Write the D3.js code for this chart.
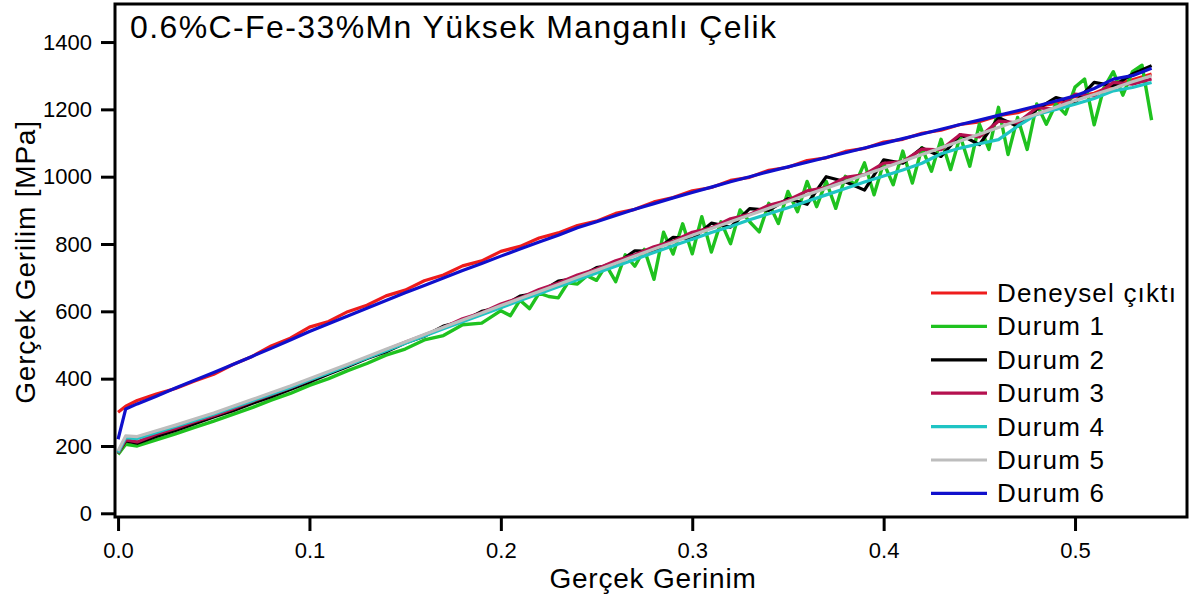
<!DOCTYPE html>
<html>
<head>
<meta charset="utf-8">
<script src="https://cdn.jsdelivr.net/npm/d3@7"></script>
<style>
  body { margin: 0; background: #fff; }
  text { font-family: "Liberation Sans", Arial, sans-serif; fill: #000; }
</style>
</head>
<body>
<div class="chart"></div>
<script>
// Data
//= ================================
var title = "0.6%C-Fe-33%Mn Yüksek Manganlı Çelik";
var xLabel = "Gerçek Gerinim";
var yLabel = "Gerçek Gerilim [MPa]";
var xTicks = [0.0, 0.1, 0.2, 0.3, 0.4, 0.5];
var yTicks = [0, 200, 400, 600, 800, 1000, 1200, 1400];
var seriesNames = ["Deneysel çıktı", "Durum 1", "Durum 2", "Durum 3", "Durum 4", "Durum 5", "Durum 6"];
var seriesColors = ["#ee1c1c", "#1fc21f", "#000000", "#b5104f", "#1fc4c4", "#bdbdbd", "#1010cc"];

// strain grid used by most curves
var strainCoarse = [0, 0.004, 0.01, 0.02, 0.03, 0.04, 0.05, 0.06, 0.07, 0.08, 0.09,
  0.10, 0.11, 0.12, 0.13, 0.14, 0.15, 0.16, 0.17, 0.18, 0.19,
  0.20, 0.21, 0.22, 0.23, 0.24, 0.25, 0.26, 0.27, 0.28, 0.29,
  0.30, 0.31, 0.32, 0.33, 0.34, 0.35, 0.36, 0.37, 0.38, 0.39,
  0.40, 0.41, 0.42, 0.43, 0.44, 0.45, 0.46, 0.47, 0.48, 0.49,
  0.50, 0.51, 0.52, 0.53, 0.54];

// Durum 1 is noisier, so it has a finer grid after 0.2
var strainFine = [0, 0.004, 0.01, 0.02, 0.03, 0.04, 0.05, 0.06, 0.07, 0.08, 0.09,
  0.10, 0.11, 0.12, 0.13, 0.14, 0.15, 0.16, 0.17, 0.18, 0.19,
  0.200, 0.205, 0.210, 0.215, 0.220, 0.225, 0.230, 0.235, 0.240, 0.245,
  0.250, 0.255, 0.260, 0.265, 0.270, 0.275, 0.280, 0.285, 0.290, 0.295,
  0.300, 0.305, 0.310, 0.315, 0.320, 0.325, 0.330, 0.335, 0.340, 0.345,
  0.350, 0.355, 0.360, 0.365, 0.370, 0.375, 0.380, 0.385, 0.390, 0.395,
  0.400, 0.405, 0.410, 0.415, 0.420, 0.425, 0.430, 0.435, 0.440, 0.445,
  0.450, 0.455, 0.460, 0.465, 0.470, 0.475, 0.480, 0.485, 0.490, 0.495,
  0.500, 0.505, 0.510, 0.515, 0.520, 0.525, 0.530, 0.535, 0.540];

var stressExp = [300, 318, 335, 354, 371, 393, 413, 442, 466, 497, 520,
  553, 570, 599, 618, 646, 663, 691, 708, 735, 750,
  778, 793, 818, 833, 855, 868, 891, 903, 925, 938,
  958, 968, 989, 998, 1019, 1028, 1048, 1056, 1075, 1084,
  1103, 1111, 1129, 1138, 1155, 1163, 1181, 1190, 1209, 1218,
  1238, 1248, 1271, 1288, 1305];

var stressD1 = [175, 205, 200, 218, 236, 255, 274, 294, 314, 336, 356,
  380, 400, 424, 445, 470, 488, 515, 528, 560, 565,
  602, 587, 633, 608, 654, 644, 640, 685, 681, 706,
  692, 737, 688, 768, 734, 784, 695, 835, 770, 860,
  771, 881, 776, 866, 801, 901, 866, 836, 921, 861,
  956, 896, 986, 911, 986, 906, 1001, 976, 1041, 946,
  1041, 976, 1076, 981, 1086, 1016, 1111, 1021, 1121, 1031,
  1156, 1081, 1206, 1066, 1176, 1081, 1216, 1156, 1216, 1186,
  1266, 1290, 1154, 1263, 1312, 1242, 1312, 1331, 1168];

var stressD2 = [180, 215, 208, 228, 246, 266, 286, 305, 326, 346, 368,
  390, 414, 436, 460, 480, 506, 526, 556, 570, 600,
  612, 645, 655, 690, 698, 730, 740, 780, 778, 820,
  815, 862, 850, 905, 900, 935, 918, 1000, 985, 960,
  1050, 1040, 1085, 1060, 1125, 1095, 1175, 1150, 1200, 1235,
  1220, 1280, 1270, 1305, 1330];

var stressD3 = [178, 218, 212, 235, 252, 272, 290, 310, 332, 352, 373,
  395, 418, 440, 462, 485, 508, 530, 552, 578, 596,
  622, 640, 665, 684, 708, 726, 750, 768, 792, 808,
  835, 848, 875, 888, 915, 930, 958, 968, 998, 1006,
  1040, 1045, 1082, 1080, 1125, 1118, 1165, 1160, 1205, 1200,
  1245, 1240, 1280, 1275, 1290];

var stressD4 = [180, 225, 222, 240, 258, 276, 294, 314, 334, 354, 374,
  396, 417, 439, 461, 483, 505, 527, 548, 569, 590,
  611, 632, 652, 673, 694, 714, 734, 754, 775, 795,
  814, 834, 852, 872, 890, 908, 927, 946, 965, 984,
  1002, 1020, 1040, 1068, 1085, 1098, 1110, 1150, 1185, 1200,
  1215, 1232, 1255, 1265, 1280];

var stressD5 = [185, 230, 228, 245, 262, 280, 298, 318, 338, 358, 378,
  400, 421, 443, 465, 487, 509, 531, 553, 574, 595,
  617, 638, 659, 680, 701, 722, 743, 764, 785, 805,
  826, 846, 866, 886, 906, 926, 946, 966, 986, 1006,
  1026, 1046, 1066, 1086, 1106, 1126, 1146, 1166, 1186, 1206,
  1226, 1244, 1262, 1282, 1300];

var stressD6 = [220, 310, 325, 348, 372, 395, 418, 442, 466, 490, 515,
  540, 563, 586, 609, 632, 655, 677, 699, 721, 742,
  764, 785, 806, 826, 848, 866, 885, 903, 920, 937,
  953, 969, 985, 1000, 1015, 1029, 1043, 1057, 1071, 1085,
  1099, 1113, 1127, 1141, 1155, 1168, 1182, 1196, 1210, 1225,
  1240, 1262, 1290, 1300, 1322];

var seriesStrain = [strainCoarse, strainFine, strainCoarse, strainCoarse, strainCoarse, strainCoarse, strainCoarse];
var seriesStress = [stressExp, stressD1, stressD2, stressD3, stressD4, stressD5, stressD6];

// Step 1: chart frame
//= ================================
var svgWidth = 1194;
var svgHeight = 597;
var margin = { top: 4, right: 7, bottom: 80, left: 115 };
var width = svgWidth - margin.left - margin.right;
var height = svgHeight - margin.top - margin.bottom;

var svg = d3.select(".chart")
  .append("svg")
  .attr("width", svgWidth)
  .attr("height", svgHeight);

var chart = svg.append("g")
  .attr("transform", "translate(" + margin.left + "," + margin.top + ")");

var xScale = d3.scaleLinear().domain([-0.0016, 0.5585]).range([0, width]);
var yScale = d3.scaleLinear().domain([-11, 1513]).range([height, 0]);

// clip so curves stay inside the frame
chart.append("clipPath").attr("id", "plot-clip")
  .append("rect").attr("width", width).attr("height", height);

// curves
var line = d3.line()
  .x(function (d) { return xScale(d[0]); })
  .y(function (d) { return yScale(d[1]); });

var curves = chart.append("g").attr("clip-path", "url(#plot-clip)");
seriesNames.forEach(function (name, i) {
  var pts = seriesStrain[i].map(function (x, j) { return [x, seriesStress[i][j]]; });
  curves.append("path")
    .datum(pts)
    .attr("fill", "none")
    .attr("stroke", seriesColors[i])
    .attr("stroke-width", i === 1 ? 3.4 : 3.2)
    .attr("stroke-linejoin", "round")
    .attr("d", line);
});

// frame
chart.append("rect")
  .attr("width", width)
  .attr("height", height)
  .attr("fill", "none")
  .attr("stroke", "#000")
  .attr("stroke-width", 3);

// x axis (ticks hang below the frame)
var xAxis = d3.axisBottom(xScale)
  .tickValues(xTicks)
  .tickFormat(d3.format(".1f"))
  .tickSize(13)
  .tickPadding(11);

chart.append("g")
  .attr("class", "x-axis")
  .attr("transform", "translate(0," + (height + 1) + ")")
  .call(xAxis);

// y axis (ticks to the left of the frame)
var yAxis = d3.axisLeft(yScale)
  .tickValues(yTicks)
  .tickFormat(d3.format("d"))
  .tickSize(13)
  .tickPadding(9);

chart.append("g")
  .attr("class", "y-axis")
  .attr("transform", "translate(-1,0)")
  .call(yAxis);

svg.selectAll(".domain").remove();
svg.selectAll(".tick line").attr("stroke", "#000").attr("stroke-width", 3);
svg.selectAll(".tick text")
  .attr("font-size", "22px")
  .attr("font-family", "Liberation Sans, Arial, sans-serif");

// titles
svg.append("text")
  .attr("x", 130)
  .attr("y", 38)
  .attr("font-size", "32px")
  .attr("letter-spacing", "1.4px")
  .text(title);

svg.append("text")
  .attr("x", 653)
  .attr("y", 588)
  .attr("text-anchor", "middle")
  .attr("font-size", "28px")
  .attr("letter-spacing", "0.8px")
  .text(xLabel);

svg.append("text")
  .attr("transform", "translate(35,262)rotate(-90)")
  .attr("text-anchor", "middle")
  .attr("font-size", "28px")
  .attr("letter-spacing", "0.8px")
  .text(yLabel);

// legend
var legend = svg.append("g").attr("transform", "translate(931,293)");
seriesNames.forEach(function (name, i) {
  var row = legend.append("g").attr("transform", "translate(0," + (i * 33.4) + ")");
  row.append("line")
    .attr("x1", 0).attr("x2", 56)
    .attr("y1", 0).attr("y2", 0)
    .attr("stroke", seriesColors[i])
    .attr("stroke-width", 3.2);
  row.append("text")
    .attr("x", 66)
    .attr("y", 9)
    .attr("font-size", "26px")
    .attr("letter-spacing", "1.2px")
    .text(name);
});
</script>
</body>
</html>
